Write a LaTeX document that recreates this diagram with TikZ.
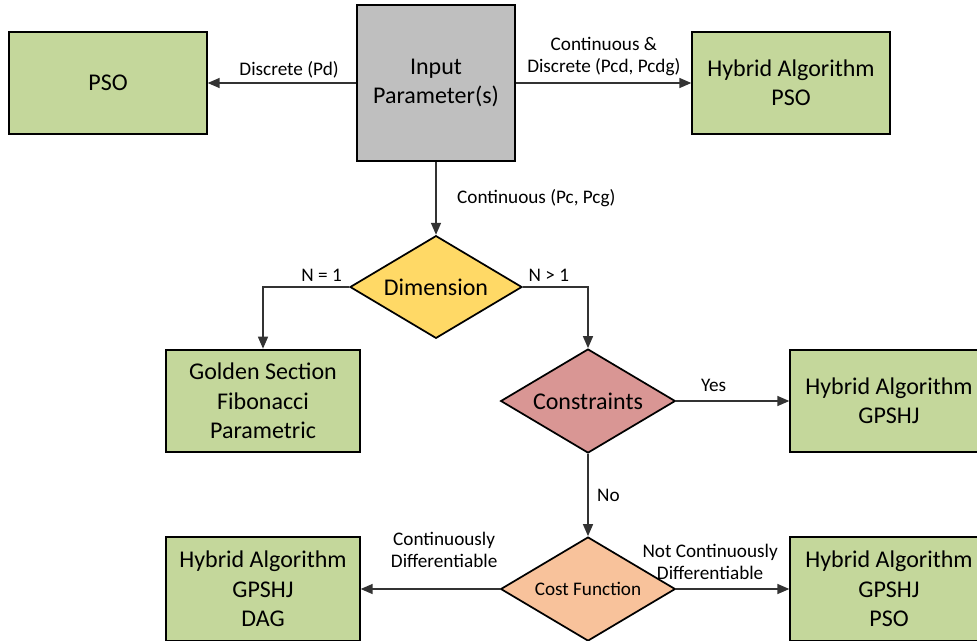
\documentclass[tikz,border=0pt]{standalone}
\usepackage{fontspec}
\setmainfont{Carlito}
\usetikzlibrary{arrows.meta,positioning,shapes.geometric}
\definecolor{algogreen}{HTML}{C4D79B}
\definecolor{inputgray}{HTML}{BFBFBF}
\definecolor{dimyellow}{HTML}{FFD966}
\definecolor{consred}{HTML}{D99694}
\definecolor{costorange}{HTML}{F8C29B}
\tikzset{
    flowchart/.style={x=0.75pt,y=-0.75pt,>={Triangle[length=9pt,width=7.5pt]},
                     line width=1.1pt,draw=black!80},
    algo/.style={rectangle,draw=black,line width=1.5pt,fill=algogreen,
                     minimum width=148pt,minimum height=77pt,align=center,
                     font=\fontsize{18}{22}\selectfont},
    decide/.style={diamond,aspect=1.67,draw=black,line width=1.3pt,inner sep=0pt,
                     minimum width=129pt,minimum height=77pt,align=center,
                     font=\fontsize{18}{22}\selectfont},
    tag/.style={font=\fontsize{14.4}{16.5}\selectfont,align=center,text=black},
    }
\begin{document}
\begin{tikzpicture}[flowchart]
    \useasboundingbox (0,0) rectangle (977,640);
            \node[rectangle,draw=black,line width=1.5pt,fill=inputgray,
                  minimum width=119pt,minimum height=117pt,align=center,
                  font=\fontsize{18}{22}\selectfont] (input) at (436,83) {Input\\Parameter(s)};
            \node[algo] (pso) at (108,83) {PSO};
            \node[algo] (hpso) at (791,83) {Hybrid Algorithm\\PSO};
            \node[decide,fill=dimyellow] (dim) at (436,287) {Dimension};
            \node[algo,minimum width=145pt] (golden) at (263,401) {Golden Section\\Fibonacci\\Parametric};
            \node[decide,fill=consred,minimum width=131pt,minimum height=78pt] (cons) at (588,401) {Constraints};
            \node[algo] (hgps) at (889,401) {Hybrid Algorithm\\GPSHJ};
            \node[decide,fill=costorange,minimum width=131pt,minimum height=78pt,
                  font=\fontsize{14.4}{16.5}\selectfont] (cost) at (588,589) {Cost Function};
            \node[algo,minimum width=145pt,minimum height=78pt] (hdag) at (263,589) {Hybrid Algorithm\\GPSHJ\\DAG};
            \node[algo,minimum height=78pt] (hgpso) at (889,589) {Hybrid Algorithm\\GPSHJ\\PSO};

            \draw[->] (input) -- node[tag,above,pos=0.45] {Discrete (Pd)} (pso);
            \draw[->] (input) -- node[tag,above,yshift=1.5pt] {Continuous \&\\Discrete (Pcd, Pcdg)} (hpso);
            \draw[->] (input) -- node[tag,right,xshift=12pt] {Continuous (Pc, Pcg)} (dim);
            \draw[->] (dim.west) -| node[tag,above,pos=0.16] {N = 1} (golden.north);
            \draw[->] (dim.east) -| node[tag,above,pos=0.2] {N > 1} (cons.north);
            \draw[->] (cons.east) -- node[tag,above,pos=0.33,yshift=3pt] {Yes} (hgps.west);
            \draw[->] (cons.south) -- node[tag,right,xshift=3pt] {No} (cost.north);
            \draw[->] (cost.west) -- node[tag,above,pos=0.4,yshift=12.5pt] {Continuously\\Differentiable} (hdag.east);
            \draw[->] (cost.east) -- node[tag,above,pos=0.3,yshift=3pt] {Not Continuously\\Differentiable} (hgpso.west);
        \end{tikzpicture}
\end{document}
